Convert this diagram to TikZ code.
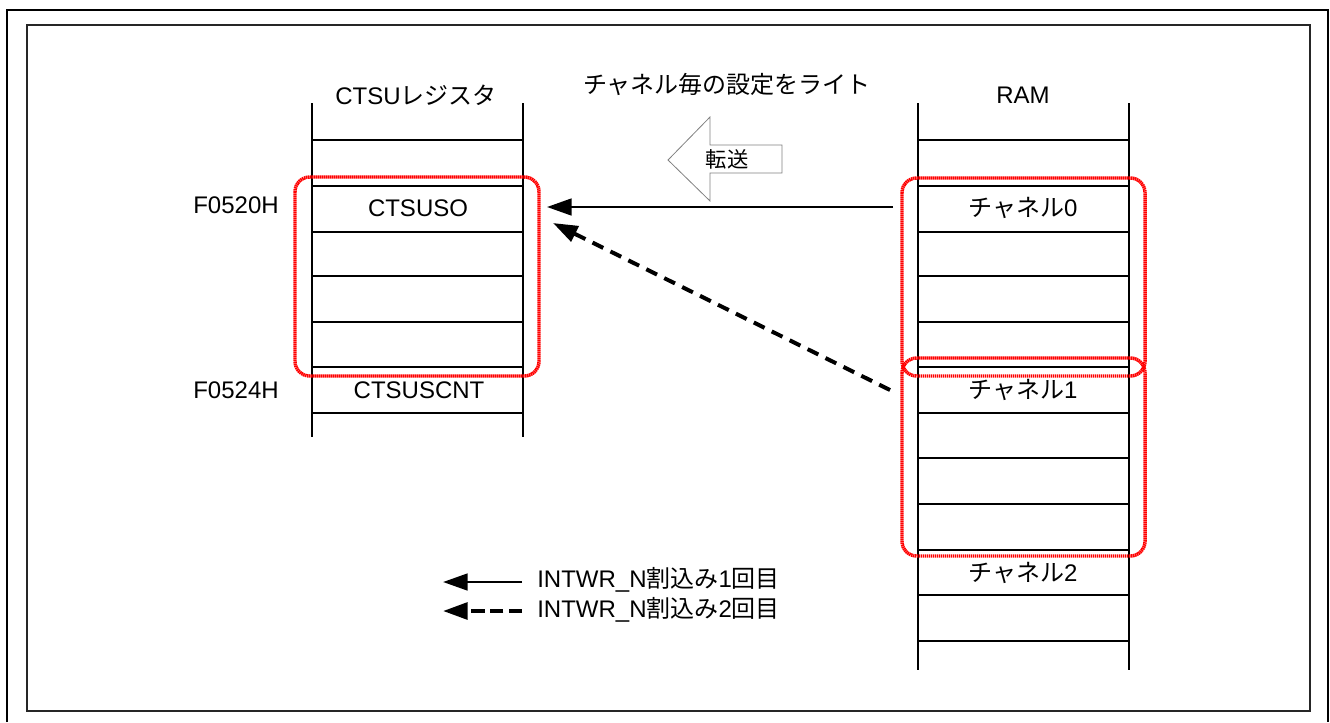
\documentclass[tikz,border=0pt]{standalone}
\usepackage{fontspec}
\setmainfont{Liberation Sans}
\newfontfamily\jp{Noto Sans CJK JP}
\usetikzlibrary{arrows.meta}
\begin{document}
\begin{tikzpicture}[x=0.75pt,y=-0.75pt,
  txt/.style={font=\fontsize{18}{21}\selectfont, inner sep=0pt},
  colline/.style={line width=1.5pt},
  redbox/.style={draw=red, line width=2.6pt, dash pattern=on 1.1pt off 0.4pt, rounded corners=11pt},
  conn/.style={line width=2.1pt, -{Triangle[length=18.5pt,width=12.5pt]}},
  dconn/.style={conn, line width=3pt, dash pattern=on 9pt off 6pt},
  ldconn/.style={conn, line width=3pt, dash pattern=on 10pt off 4pt},
]
\useasboundingbox (0,0) rectangle (1330,722);
% frames
\draw[line width=1.6pt] (7,722) -- (7,10) -- (1328,10) -- (1328,722);
\draw[line width=2.2pt, black!85] (27,25) rectangle (1310,711);

% left column (CTSU registers)
\draw[colline] (312,103) -- (312,437) (523,103) -- (523,437);
\foreach \y in {140,186,232,276,322,367,413} \draw[colline] (312,\y) -- (523,\y);

% right column (RAM)
\draw[colline] (918,103) -- (918,670) (1129,103) -- (1129,670);
\foreach \y in {140,186,232,276,322,367,413,458,504,550,595,641} \draw[colline] (918,\y) -- (1129,\y);

% texts
\node[txt] (regtitle) at (416,95) {CTSU{\jp レジスタ}};
\node[txt] (ramtitle) at (1023,95) {RAM};
\node[txt] (maintitle) at (727,84) {\jp チャネル毎の設定をライト};
\node[txt] (a0) at (236,205) {F0520H};
\node[txt] (a4) at (236,390) {F0524H};
\node[txt] (cso) at (418,208) {CTSUSO};
\node[txt] (cscnt) at (419,390) {CTSUSCNT};
\node[txt] (ch0) at (1023,208) {{\jp チャネル}0};
\node[txt] (ch1) at (1023,390) {{\jp チャネル}1};
\node[txt] (ch2) at (1023,573) {{\jp チャネル}2};

% red groups
\draw[redbox] (295,177) rectangle (539,376);
\draw[redbox] (902,178) rectangle (1145,376);
\draw[redbox] (902,358) rectangle (1145,556);

% block arrow
\draw[gray, line width=0.6pt, fill=white] (668,160) -- (710,117) -- (710,145) -- (782,145) -- (782,173) -- (710,173) -- (710,201) -- cycle;
\node[txt, font=\fontsize{16}{18}\selectfont] (tensou) at (727,159) {\jp 転送};

% transfer arrows
\coordinate (srcA) at (893,207);
\coordinate (dstA) at (547,207);
\draw[conn] (srcA) -- (dstA);
\coordinate (srcB) at (890,390);
\coordinate (dstB) at (553,223);
\draw[dconn] (srcB) -- (dstB);

% legend
\node[txt, anchor=west] (leg1) at (537,580) {INTWR\_N{\jp 割込み}1{\jp 回目}};
\node[txt, anchor=west] (leg2) at (537,610) {INTWR\_N{\jp 割込み}2{\jp 回目}};
\coordinate (l1s) at (522,582);
\coordinate (l1e) at (443,582);
\coordinate (l2s) at (522,611);
\coordinate (l2e) at (443,611);
\draw[conn] (l1s) -- (l1e);
\draw[ldconn] (l2s) -- (l2e);
\end{tikzpicture}
\end{document}
